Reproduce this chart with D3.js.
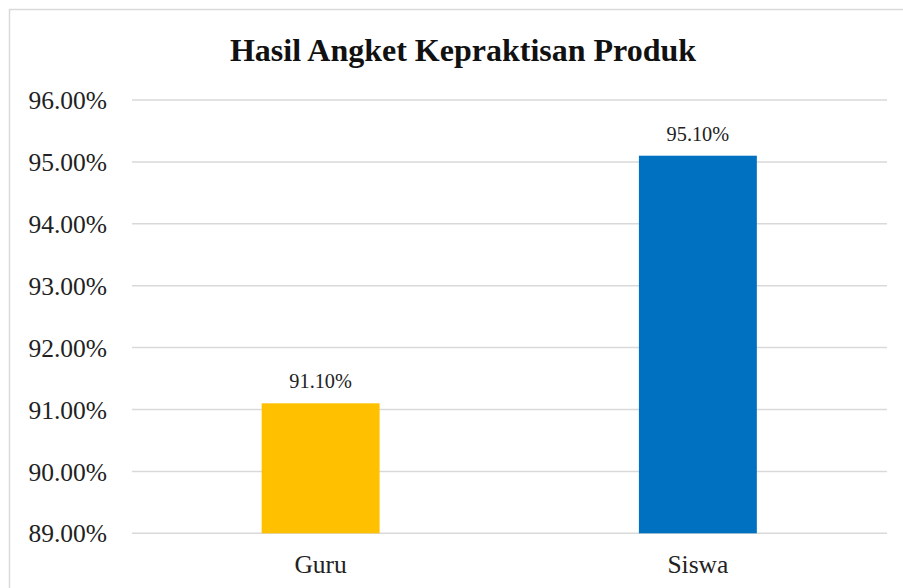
<!DOCTYPE html>
<html>
<head>
<meta charset="utf-8">
<script src="https://cdn.jsdelivr.net/npm/d3@7"></script>
<style>
  html, body { margin: 0; padding: 0; background: #fff; }
  svg { display: block; }
  svg text { font-family: "Liberation Serif", "Times New Roman", serif; }
</style>
</head>
<body>
<div id="chart"></div>
<script>
// chart data
const title = 'Hasil Angket Kepraktisan Produk';
const categories = ['Guru', 'Siswa'];
const values = [0.911, 0.951];
const colours = ['#FFC000', '#0070C0'];
const tickValues = [0.89, 0.90, 0.91, 0.92, 0.93, 0.94, 0.95, 0.96];

const width = 903;
const height = 588;
const margin = { top: 100, right: 16, bottom: 54.7, left: 132 };
const serif = 'Liberation Serif, Times New Roman, serif';

const svg = d3.select('#chart').append('svg')
  .attr('width', width)
  .attr('height', height)
  .attr('viewBox', `0 0 ${width} ${height}`);

// chart frame
svg.append('rect')
  .attr('x', 9.5).attr('y', 9.5)
  .attr('width', 910).attr('height', 600)
  .attr('fill', '#fff')
  .attr('stroke', '#D9D9D9')
  .attr('stroke-width', 1.5);

const x = d3.scaleBand()
  .domain(categories)
  .range([margin.left, width - margin.right - 0.5]);

const y = d3.scaleLinear()
  .domain([0.89, 0.96])
  .range([height - margin.bottom, margin.top]);

const fmt = d3.format('.2%');
const barW = x.bandwidth() * 0.3126;

// gridlines
svg.append('g')
  .selectAll('line')
  .data(tickValues)
  .enter().append('line')
  .attr('x1', margin.left)
  .attr('x2', width - margin.right)
  .attr('y1', d => y(d))
  .attr('y2', d => y(d))
  .attr('stroke', '#D9D9D9')
  .attr('stroke-width', 1.5);

// y axis labels
svg.append('g')
  .selectAll('text')
  .data(tickValues)
  .enter().append('text')
  .attr('x', 107)
  .attr('y', d => y(d))
  .attr('dy', '0.36em')
  .attr('text-anchor', 'end')
  .attr('font-family', serif)
  .attr('font-size', 25.5)
  .attr('fill', '#222')
  .text(d => fmt(d));

// bars
svg.append('g')
  .selectAll('rect')
  .data(values)
  .enter().append('rect')
  .attr('x', (d, i) => x(categories[i]) + (x.bandwidth() - barW) / 2)
  .attr('y', d => y(d))
  .attr('width', barW)
  .attr('height', d => y(0.89) - y(d))
  .style('fill', (d, i) => colours[i]);

// data labels
svg.append('g')
  .selectAll('text')
  .data(values)
  .enter().append('text')
  .attr('x', (d, i) => x(categories[i]) + x.bandwidth() / 2)
  .attr('y', d => y(d) - 15)
  .attr('text-anchor', 'middle')
  .attr('font-family', serif)
  .attr('font-size', 20.3)
  .attr('fill', '#222')
  .text(d => fmt(d));

// category labels
svg.append('g')
  .selectAll('text')
  .data(categories)
  .enter().append('text')
  .attr('x', d => x(d) + x.bandwidth() / 2)
  .attr('y', 573)
  .attr('text-anchor', 'middle')
  .attr('font-family', serif)
  .attr('font-size', 25.5)
  .attr('fill', '#222')
  .text(d => d);

// title
svg.append('text')
  .attr('x', 463)
  .attr('y', 61)
  .attr('text-anchor', 'middle')
  .attr('font-family', serif)
  .attr('font-size', 32)
  .attr('font-weight', 'bold')
  .attr('fill', '#111')
  .text(title);
</script>
</body>
</html>
